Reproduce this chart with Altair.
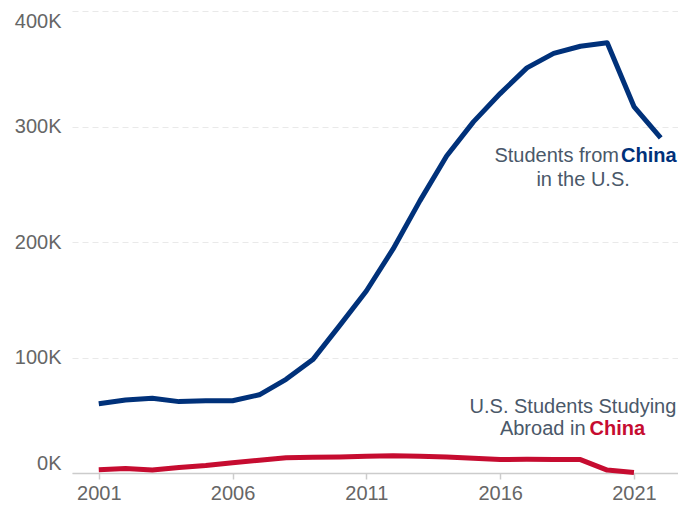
import altair as alt
import pandas as pd

# Data (school years labelled by ending year)
years_cn = list(range(2001, 2023))
china_in_us = [59900, 63200, 64800, 61800, 62500, 62600, 67700, 81100, 98200,
               127600, 157600, 194000, 235600, 274400, 304000, 328500, 350800,
               363300, 369500, 372500, 317300, 290100]
years_us = list(range(2001, 2022))
us_in_china = [2900, 3900, 2500, 4700, 6400, 8800, 11100, 13200, 13700, 13900,
               14600, 14900, 14400, 13800, 12800, 11700, 11900, 11600, 11600,
               2500, 400]

x_ticks = [2001, 2006, 2011, 2016, 2021]
y_ticks = [0, 100000, 200000, 300000, 400000]

BLUE = "#00317a"
RED = "#c60c30"
SLATE = "#4a5869"
FONT = "Liberation Sans"

blue_df = pd.DataFrame({"year": years_cn, "value": china_in_us})
red_df = pd.DataFrame({"year": years_us, "value": us_in_china})

# annotation anchors (data coordinates)
ann_plain = pd.DataFrame({
    "year": [2020.44, 2019.10, 2018.72, 2019.19],
    "value": [274700, 254100, 57500, 38200],
    "text": ["Students from", "in the U.S.", "U.S. Students Studying", "Abroad in"],
    "align": ["right", "center", "center", "right"],
})
ann_blue = pd.DataFrame({"year": [2020.44], "value": [274700], "text": ["China"]})
ann_red = pd.DataFrame({"year": [2019.19], "value": [38200], "text": ["China"]})

xs = alt.Scale(domain=[2000, 2022.646], nice=False, zero=False)
ys = alt.Scale(domain=[0, 400000], nice=False)

x_enc = alt.X("year:Q", scale=xs, title=None,
              axis=alt.Axis(values=x_ticks, format="d", grid=False,
                            domainColor="#cccccc", domainWidth=1.5,
                            tickColor="#cccccc", tickSize=6, tickWidth=1.5,
                            labelPadding=4, labelFlush=False))
y_enc = alt.Y("value:Q", scale=ys, title=None,
              axis=alt.Axis(values=y_ticks, labelExpr="datum.value / 1000 + 'K'",
                            grid=True, gridDash=[6, 4], gridColor="#e9e9e9",
                            domain=False, ticks=False, labelPadding=11,
                            labelFlush=True))

blue_line = alt.Chart(blue_df).mark_line(color=BLUE, strokeWidth=5, strokeJoin="round").encode(
    x=x_enc, y=y_enc)
red_line = alt.Chart(red_df).mark_line(color=RED, strokeWidth=5, strokeJoin="round").encode(
    x="year:Q", y="value:Q")

def plain(align):
    d = ann_plain[ann_plain["align"] == align]
    return alt.Chart(d).mark_text(align=align, baseline="middle", fontSize=20,
                                  font=FONT, color=SLATE).encode(
        x="year:Q", y="value:Q", text="text:N")

t_right = plain("right")
t_center = plain("center")
t_blue = alt.Chart(ann_blue).mark_text(align="left", baseline="middle", fontSize=20, dx=2,
                                       font=FONT, fontWeight="bold", color=BLUE).encode(
    x="year:Q", y="value:Q", text="text:N")
t_red = alt.Chart(ann_red).mark_text(align="left", baseline="middle", fontSize=20, dx=4,
                                     font=FONT, fontWeight="bold", color=RED).encode(
    x="year:Q", y="value:Q", text="text:N")

chart = alt.layer(blue_line, red_line, t_right, t_center, t_blue, t_red).properties(
    width=606, height=462,
    autosize=alt.AutoSizeParams(type="none"),
    padding={"left": 64, "top": 3, "right": 0, "bottom": 30},
).configure_view(stroke=None).configure_axis(
    labelFont=FONT, labelFontSize=20, labelColor="#666666"
)

chart.save("out.html", embed_options={"renderer": "svg", "actions": False})
